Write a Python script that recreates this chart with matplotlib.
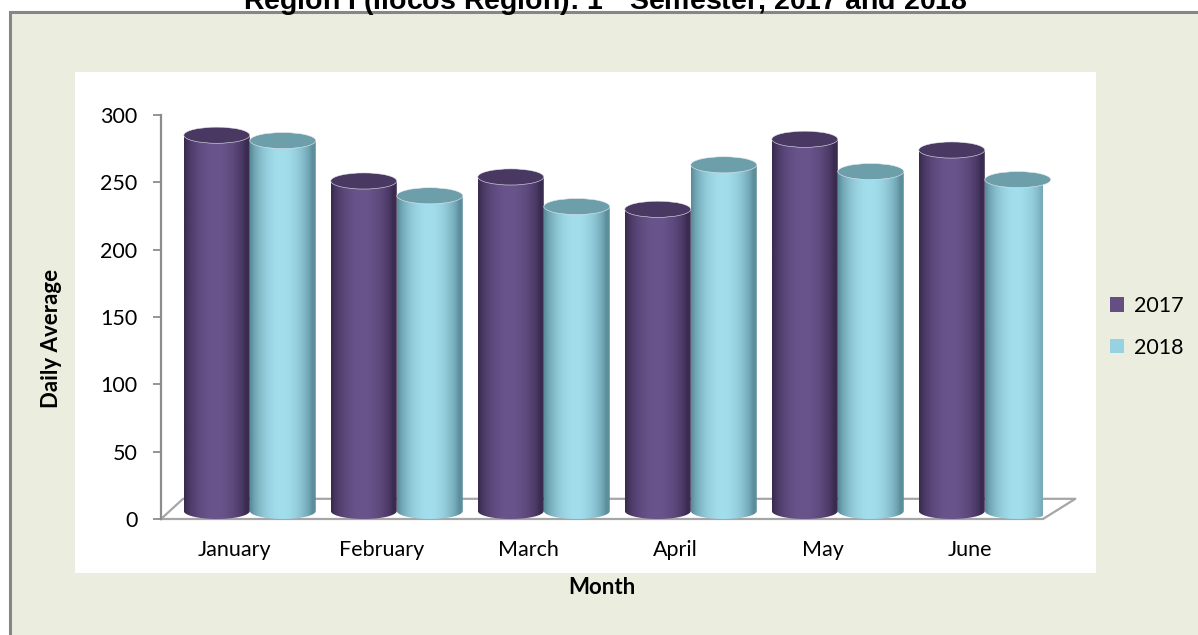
import matplotlib.pyplot as plt
import numpy as np
from matplotlib.patches import Rectangle, Ellipse, PathPatch, Patch
from matplotlib.path import Path

months = ['January', 'February', 'March', 'April', 'May', 'June']
series = ['2017', '2018']
avg_2017 = [279, 245, 248, 224, 276, 268]
avg_2018 = [275, 234, 226, 257, 252, 246]
y_ticks = [0, 50, 100, 150, 200, 250, 300]

W, H = 1198, 635
plt.rcParams['mathtext.fontset'] = 'custom'
plt.rcParams['mathtext.rm'] = 'Liberation Sans:bold'
plt.rcParams['mathtext.it'] = 'Liberation Sans:bold'
plt.rcParams['mathtext.bf'] = 'Liberation Sans:bold'

def fx(x):
    return x / W

def fy(y):
    return 1 - y / H

fig = plt.figure(figsize=(W / 100, H / 100), dpi=100)

# green panel with grey frame and white plot area
fig.patches.append(Rectangle((fx(9.5), fy(660)), fx(1220), 648 / H, transform=fig.transFigure,
                             fc='#EBEEDE', ec='#868686', lw=2.2, zorder=-3))
fig.patches.append(Rectangle((fx(75), fy(573)), (1096 - 75) / W, (573 - 72) / H,
                             transform=fig.transFigure, fc='white', ec='none', zorder=-2))

ax = fig.add_axes([fx(161), fy(519), (1043 - 161) / W, (519 - 115) / H])
ax.patch.set_visible(False)

# colours: edge, middle, top, legend
colors = {
    '2017': ((58, 43, 80), (106, 84, 140), '#483862', '#644E82'),
    '2018': ((92, 142, 156), (163, 222, 237), '#6D9FAB', '#96D2E1'),
}

w = 0.449          # bar width (category units)
shift = 0.104      # depth shift of the bar row
eh = 12            # ellipse height (value units)

# floor
dx_l, dx_r, dy = 0.15, 0.22, 15
ax.plot([-0.5, 5.5, 5.5 + dx_r, -0.5 + dx_l, -0.5], [0, 0, dy, dy, 0],
        color='#A6A6A6', lw=1.6, clip_on=False, zorder=1)

t = np.linspace(0, 1, 200)
shade = np.sin(np.pi * np.clip(t * 1.1 - 0.02, 0, 1)) ** 0.7

x = np.arange(len(months))
for s, (name, vals) in enumerate(zip(series, [avg_2017, avg_2018])):
    edge, mid, top, _ = colors[name]
    edge = np.array(edge) / 255
    mid = np.array(mid) / 255
    grad = edge[None, :] + (mid - edge)[None, :] * shade[:, None]
    img = grad[None, :, :]
    for i, v in zip(x, vals):
        xc = i + shift + (s - 0.5) * w
        x0, x1 = xc - w / 2, xc + w / 2
        th = np.linspace(np.pi, 2 * np.pi, 40)
        pts = list(zip(xc + w / 2 * np.cos(th), eh / 2 + eh / 2 * np.sin(th)))
        pts += [(x1, v + eh / 2), (x0, v + eh / 2), pts[0]]
        clip = PathPatch(Path(pts), transform=ax.transData, fc='none', ec='none')
        im = ax.imshow(img, extent=[x0, x1, 0, v + eh / 2], aspect='auto', zorder=2 + s)
        im.set_clip_path(clip)
        ax.add_patch(Ellipse((xc, v + eh / 2), w, eh, fc=top, ec='#E8E8F0', lw=0.4,
                             zorder=2 + s, clip_on=False))

ax.set_xlim(-0.5, 5.5)
ax.set_ylim(0, 300)
ax.set_yticks(y_ticks)
ax.set_yticklabels([str(v) for v in y_ticks], fontsize=15.5, family='Lato')
ax.set_xticks(x)
ax.set_xticklabels(months, fontsize=15.5, family='Lato')
ax.tick_params(axis='y', direction='out', length=6, width=1.3, color='#8C8C8C', pad=11)
ax.tick_params(axis='x', length=0, pad=15)
for side in ['top', 'right', 'bottom']:
    ax.spines[side].set_visible(False)
ax.spines['left'].set_color('#8C8C8C')
ax.spines['left'].set_linewidth(1.6)

fig.text(fx(52), fy(338), 'Daily Average', rotation=90, ha='center', va='center',
         fontsize=16, fontweight='bold', family='Lato')
fig.text(fx(602), fy(588), 'Month', ha='center', va='center',
         fontsize=16, fontweight='bold', family='Lato')

fig.text(fx(605), fy(10), r'Region I (Ilocos Region): 1$^{\mathrm{st}}$ Semester, 2017 and 2018',
         ha='center', va='baseline', fontsize=20.5, fontweight='bold', family='Liberation Sans')

handles = [Patch(fc=colors[n][3], ec='none') for n in series]
fig.legend(handles, series, loc='center left', bbox_to_anchor=(fx(1091), fy(327)),
           frameon=False, handlelength=0.65, handleheight=0.65, handletextpad=0.45,
           labelspacing=1.0, prop={'family': 'Lato', 'size': 15.5})

fig.savefig('out.png', dpi=100)
